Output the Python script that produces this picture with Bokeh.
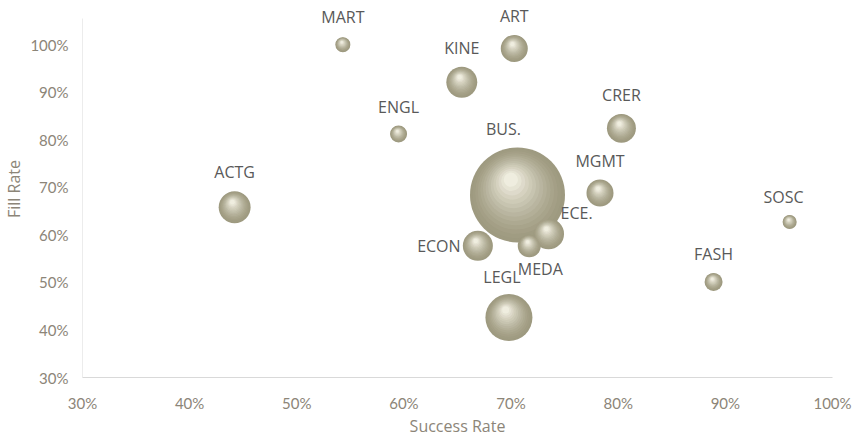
from bokeh.plotting import figure
from bokeh.models import ColumnDataSource, NumeralTickFormatter, FixedTicker, Range1d, LabelSet
from bokeh.core.properties import value
from bokeh.embed import file_html
from bokeh.resources import INLINE

# ---- data ----
programs = ["MART", "ART", "KINE", "ENGL", "CRER", "BUS.", "ACTG", "MGMT",
            "SOSC", "ECE.", "ECON", "MEDA", "FASH", "LEGL"]
success_rate = [0.543, 0.703, 0.654, 0.595, 0.803, 0.706, 0.442, 0.783,
                0.960, 0.735, 0.669, 0.717, 0.889, 0.698]
fill_rate = [1.000, 0.992, 0.921, 0.812, 0.824, 0.684, 0.658, 0.688,
             0.627, 0.602, 0.577, 0.577, 0.501, 0.426]
enrollment = [25, 81, 106, 32, 93, 1000, 113, 81, 22, 106, 100, 59, 36, 245]
x_ticks = [0.3, 0.4, 0.5, 0.6, 0.7, 0.8, 0.9, 1.0]
y_ticks = [0.3, 0.4, 0.5, 0.6, 0.7, 0.8, 0.9, 1.0]

# ---- layout constants ----
W, H = 865, 440
LEFT, RIGHT, BOTTOM = 82, 33, 63
AXIS_TOP_PX = 18          # where the visible y-axis line starts
X0, X1 = 0.3, 1.0
Y0, Y_AXIS_TOP = 0.3, 1.055
frame_w = W - LEFT - RIGHT
frame_h = H - BOTTOM
xppu = frame_w / (X1 - X0)
yppu = (frame_h - AXIS_TOP_PX) / (Y_AXIS_TOP - Y0)
Y1 = Y_AXIS_TOP + AXIS_TOP_PX / yppu

MAX_D = 95.0
vmax = max(enrollment)
diam = [MAX_D * (v / vmax) ** 0.5 for v in enrollment]

# label offsets (screen px, positive = up), placement like the original
lab_dx = [0, 0, 0, 0, 0, -14, 0, 0, -6, 28, -39, 11, 0, -7]
lab_dy = [28, 32, 34, 27, 33, 66, 35, 32, 25, 21, 0, -23, 28, 41]

p = figure(width=W, height=H, output_backend="svg", toolbar_location=None,
           x_range=Range1d(X0, X1), y_range=Range1d(Y0, Y1),
           min_border_left=LEFT, min_border_right=RIGHT,
           min_border_top=0, min_border_bottom=BOTTOM)
p.outline_line_color = None
p.grid.visible = False
p.background_fill_color = "white"
p.border_fill_color = "white"

# visible y-axis line (only up to the axis top)
p.segment(x0=[X0], y0=[Y0], x1=[X0], y1=[Y_AXIS_TOP], line_color="#d9d9d9",
          line_width=1)

# ---- shaded bubbles (layered circles to mimic 3D look) ----
def mix(c1, c2, t):
    a = [int(c1[i:i + 2], 16) for i in (1, 3, 5)]
    b = [int(c2[i:i + 2], 16) for i in (1, 3, 5)]
    return "#%02x%02x%02x" % tuple(round(a[k] + (b[k] - a[k]) * t) for k in range(3))

N = 14
dark, light = "#9e9a80", "#f0eee0"
for i in range(N):
    t = i / (N - 1)
    frac = 1.0 - 0.85 * t
    ox = -0.07 * t
    oy = 0.16 * t
    col = mix(dark, light, t ** 1.4)
    xs = [x + ox * d / xppu for x, d in zip(success_rate, diam)]
    ys = [y + oy * d / yppu for y, d in zip(fill_rate, diam)]
    ss = [d * frac for d in diam]
    p.scatter(x=xs, y=ys, size=ss, fill_color=col, line_color=None,
              fill_alpha=1.0 if i == 0 else 0.85)

# ---- labels ----
src = ColumnDataSource(dict(x=success_rate, y=fill_rate, t=programs,
                            dx=lab_dx, dy=lab_dy))
labels = LabelSet(x="x", y="y", text="t", x_offset="dx", y_offset="dy",
                  source=src, text_align="center", text_baseline="middle",
                  text_font=value("Open Sans"), text_font_size="16px",
                  text_color="#595959", level="overlay")
p.add_layout(labels)

# ---- axes ----
tick_col = "#8c8578"
for ax in (p.xaxis[0], p.yaxis[0]):
    ax.major_tick_line_color = None
    ax.minor_tick_line_color = None
    ax.major_label_text_color = tick_col
    ax.major_label_text_font = "Lato"
    ax.major_label_text_font_size = "15px"
    ax.axis_label_text_color = tick_col
    ax.axis_label_text_font = "Open Sans"
    ax.axis_label_text_font_size = "16px"
    ax.axis_label_text_font_style = "normal"
    ax.formatter = NumeralTickFormatter(format="0%")

p.xaxis[0].axis_line_color = "#d9d9d9"
p.yaxis[0].axis_line_color = None
p.xaxis[0].ticker = FixedTicker(ticks=x_ticks)
p.yaxis[0].ticker = FixedTicker(ticks=y_ticks)
p.xaxis[0].axis_label = "Success Rate"
p.yaxis[0].axis_label = "Fill Rate"
p.xaxis[0].major_label_standoff = 10
p.yaxis[0].major_label_standoff = 8
p.xaxis[0].axis_label_standoff = 0
p.yaxis[0].axis_label_standoff = 2

open("out.html", "w").write(file_html(p, INLINE))
